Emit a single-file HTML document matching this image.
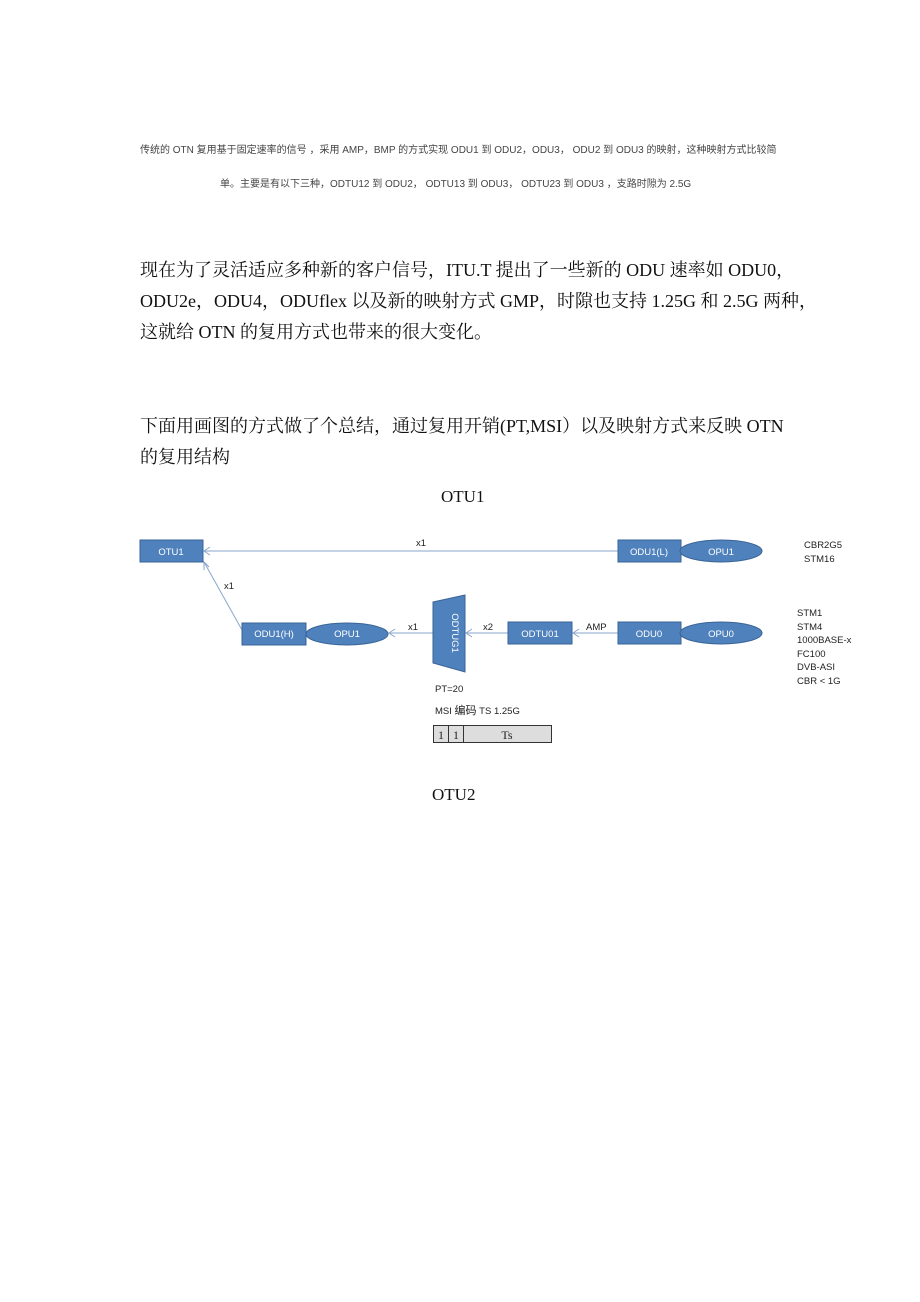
<!DOCTYPE html>
<html><head><meta charset="utf-8"><style>
body{margin:0;background:#fff;width:920px;height:1302px;position:relative;overflow:hidden}
.t{position:absolute;white-space:nowrap}
.s{font-family:"Liberation Sans","Noto Sans CJK SC",sans-serif;font-size:10px;color:#444}
.b{font-family:"Liberation Serif","Noto Serif CJK SC","Noto Sans CJK SC",serif;font-size:18px;color:#111;left:140px}
</style></head><body>
<div class="t s" style="left:140px;top:141px">传统的 OTN 复用基于固定速率的信号 ，采用 AMP，BMP 的方式实现 ODU1 到 ODU2，ODU3， ODU2 到 ODU3 的映射，这种映射方式比较简</div>
<div class="t s" style="left:220px;top:175px">单。主要是有以下三种，ODTU12 到 ODU2， ODTU13 到 ODU3， ODTU23 到 ODU3 ，支路时隙为 2.5G</div>
<div class="t b" style="top:256px">现在为了灵活适应多种新的客户信号，ITU.T 提出了一些新的 ODU 速率如 ODU0，</div>
<div class="t b" style="top:287px">ODU2e，ODU4，ODUflex 以及新的映射方式 GMP，时隙也支持 1.25G 和 2.5G 两种，</div>
<div class="t b" style="top:318px">这就给 OTN 的复用方式也带来的很大变化。</div>
<div class="t b" style="top:412px">下面用画图的方式做了个总结，通过复用开销(PT,MSI）以及映射方式来反映 OTN</div>
<div class="t b" style="top:443px">的复用结构</div>
<div class="t b" style="left:441px;top:487px;font-size:17px">OTU1</div>
<div class="t b" style="left:432px;top:785px;font-size:17px">OTU2</div>
<svg width="920" height="1302" style="position:absolute;left:0;top:0" font-family="Liberation Sans, Noto Sans CJK SC, sans-serif">
<g stroke="#8aa6cc" stroke-width="1" fill="none">
<line x1="204" y1="551" x2="618" y2="551"/><polyline points="210,547 204,551 210,555"/>
<line x1="242" y1="630" x2="204" y2="562"/><polyline points="204,570 204,562 209,567"/>
<line x1="389" y1="633" x2="433" y2="633"/><polyline points="395,629 389,633 395,637"/>
<line x1="466" y1="633" x2="508" y2="633"/><polyline points="472,629 466,633 472,637"/>
<line x1="573" y1="633" x2="618" y2="633"/><polyline points="579,629 573,633 579,637"/>
</g>
<g fill="#4f81bd" stroke="#3a6496" stroke-width="1">
<rect x="140" y="540" width="63" height="22"/>
<rect x="618" y="540" width="63" height="22"/>
<ellipse cx="721" cy="551" rx="41" ry="11"/>
<rect x="242" y="623" width="64" height="22"/>
<ellipse cx="347" cy="634" rx="41" ry="11"/>
<polygon points="433,602 465,595 465,672 433,663"/>
<rect x="508" y="622" width="64" height="22"/>
<rect x="618" y="622" width="63" height="22"/>
<ellipse cx="721" cy="633" rx="41" ry="11"/>
</g>
<g fill="#fff" font-size="9.5" text-anchor="middle">
<text x="171" y="555">OTU1</text><text x="649" y="555">ODU1(L)</text><text x="721" y="555">OPU1</text>
<text x="274" y="637">ODU1(H)</text><text x="347" y="637">OPU1</text>
<text x="540" y="637">ODTU01</text><text x="649" y="637">ODU0</text><text x="721" y="637">OPU0</text>
<text x="452" y="633" transform="rotate(90 452 633)">ODTUG1</text>
</g>
<g fill="#222" font-size="9.5">
<text x="416" y="546">x1</text><text x="224" y="589">x1</text><text x="408" y="630">x1</text>
<text x="483" y="630">x2</text><text x="586" y="630">AMP</text>
<text x="804" y="548">CBR2G5</text><text x="804" y="562">STM16</text>
<text x="797" y="616">STM1</text><text x="797" y="630">STM4</text><text x="797" y="643">1000BASE-x</text>
<text x="797" y="657">FC100</text><text x="797" y="670">DVB-ASI</text><text x="797" y="684">CBR &lt; 1G</text>
<text x="435" y="692">PT=20</text><text x="435" y="714">MSI <tspan font-size="11">编码</tspan> TS 1.25G</text>
</g>
<g stroke="#333" stroke-width="1" fill="#ddd">
<rect x="433.5" y="725.5" width="118" height="17"/>
<line x1="448.5" y1="725" x2="448.5" y2="743"/><line x1="463.5" y1="725" x2="463.5" y2="743"/>
</g>
<g fill="#222" font-family="Liberation Serif, serif" font-size="12" text-anchor="middle">
<text x="441" y="739">1</text><text x="456" y="739">1</text><text x="507" y="739">Ts</text>
</g>
</svg>
</body></html>
